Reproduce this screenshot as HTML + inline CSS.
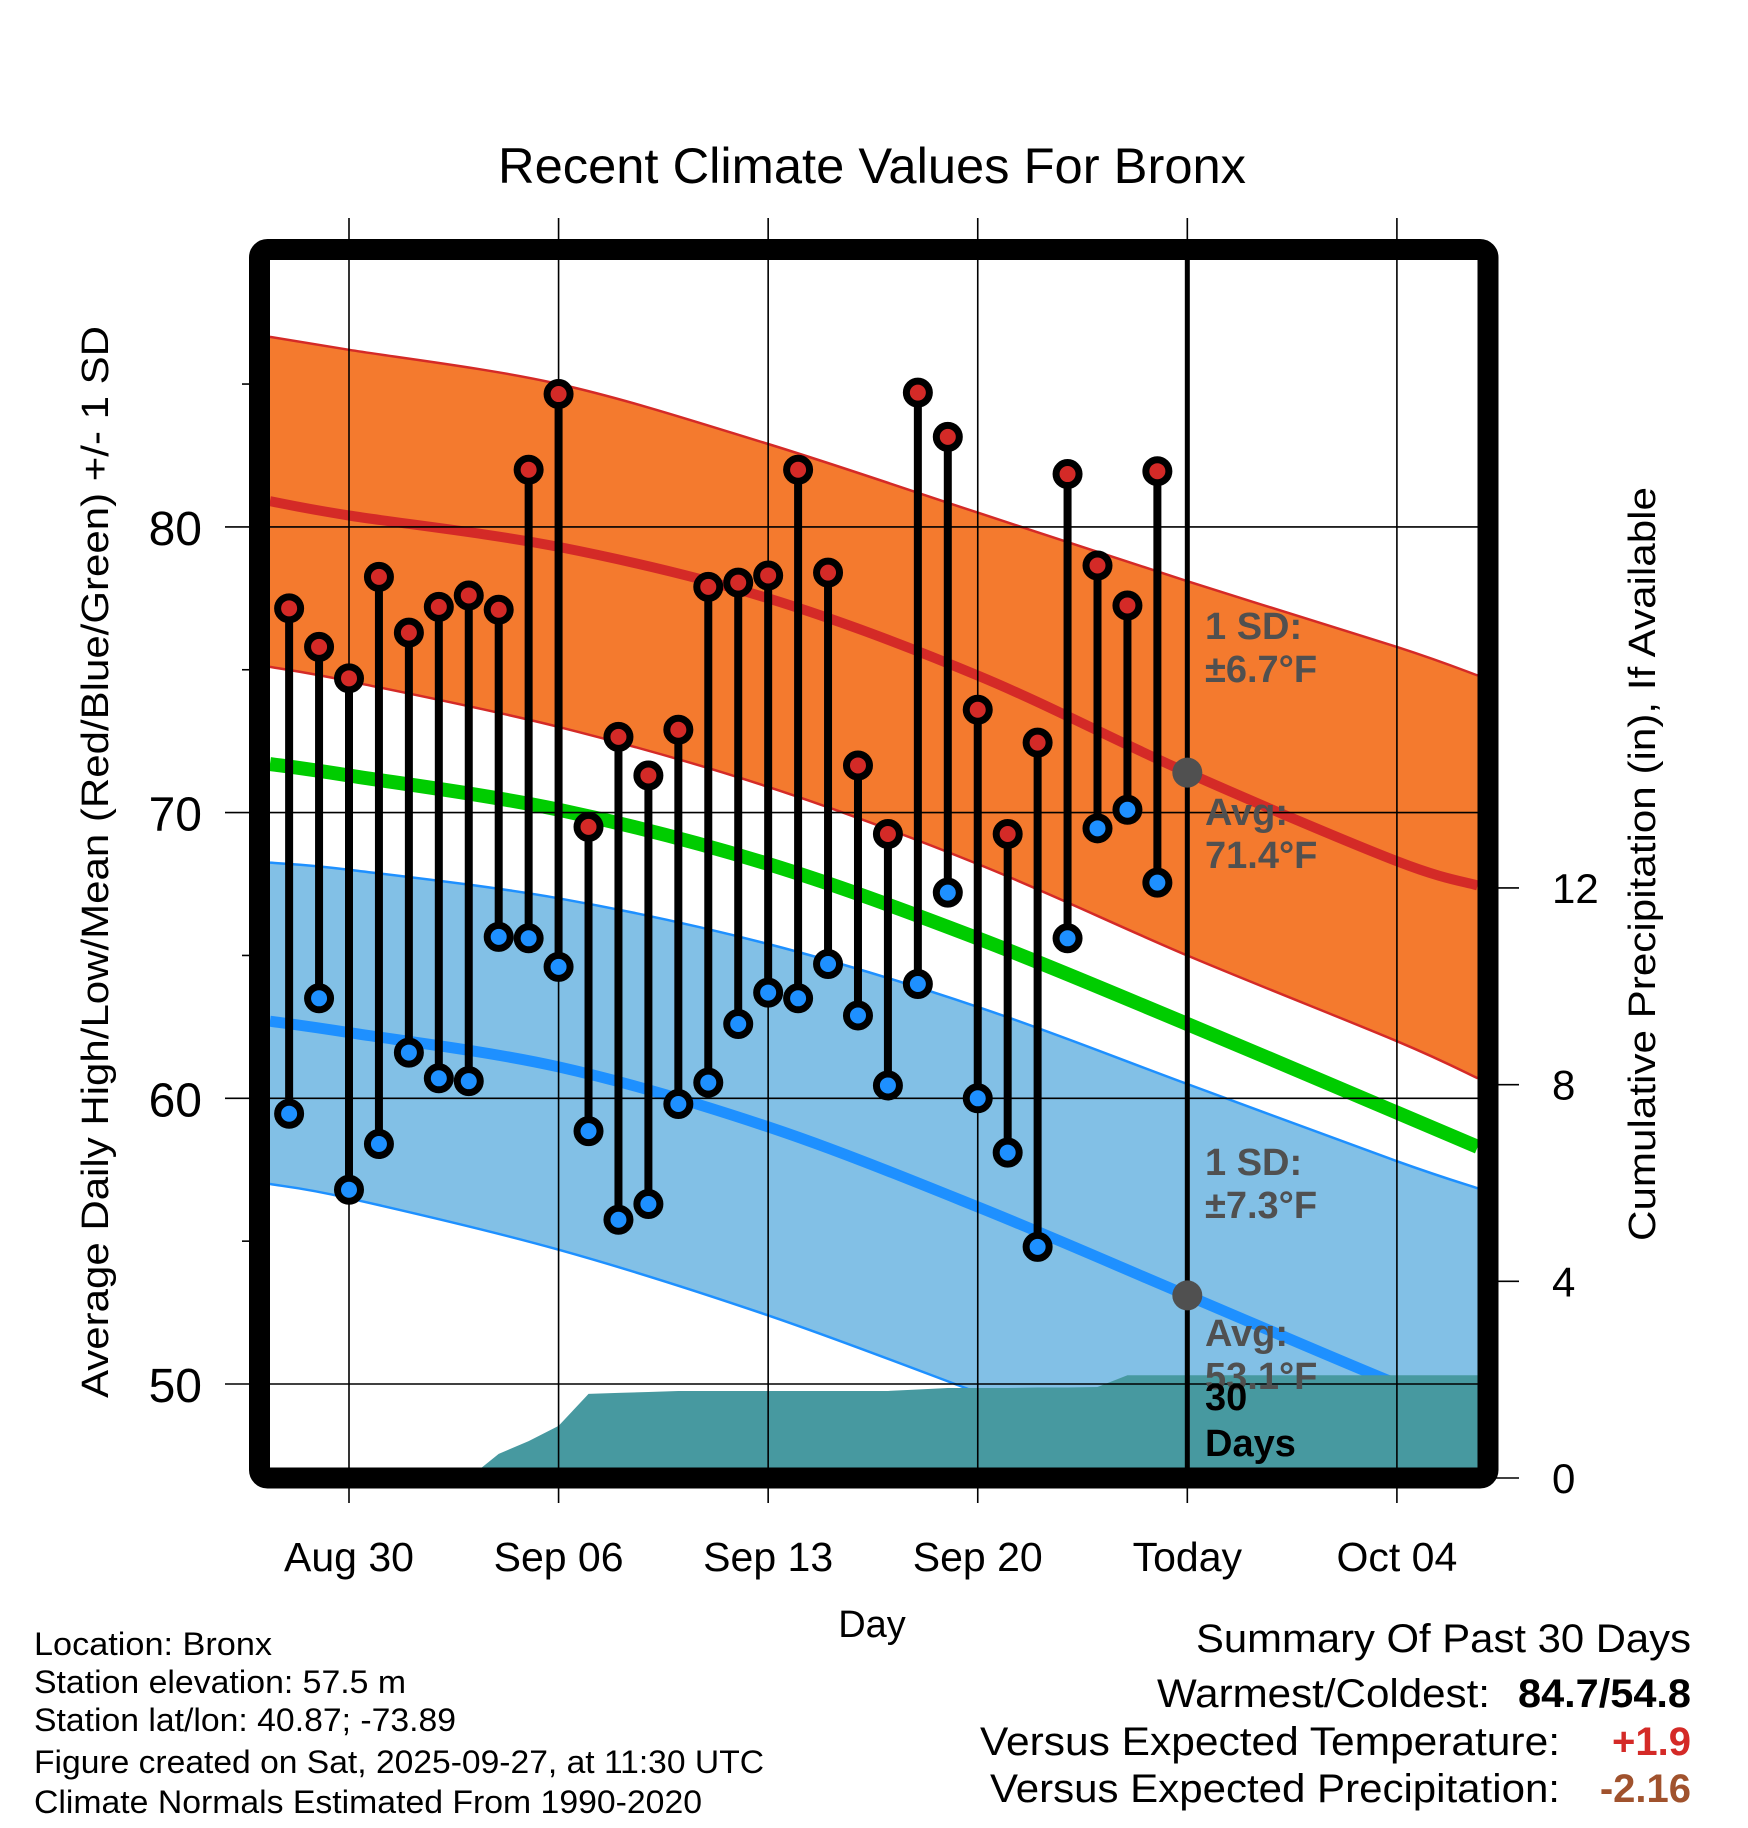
<!DOCTYPE html>
<html><head><meta charset="utf-8"><style>
html,body{margin:0;padding:0;background:#fff;}
svg{display:block;font-family:"Liberation Sans",Arial,sans-serif;}
</style></head><body>
<svg id="chart" width="1748" height="1828" viewBox="0 0 1748 1828" xmlns="http://www.w3.org/2000/svg">
<defs><clipPath id="plotclip"><rect x="270" y="260" width="1208" height="1208"/></clipPath></defs>
<text x="872" y="183" font-size="50" text-anchor="middle" textLength="748" lengthAdjust="spacingAndGlyphs">Recent Climate Values For Bronx</text>
<g id="plot" clip-path="url(#plotclip)"></g>
<g id="over"></g>
<rect x="259.5" y="249.5" width="1228.5" height="1228.5" rx="8" fill="none" stroke="#000" stroke-width="21"/>
<text x="872" y="1637" font-size="38" text-anchor="middle">Day</text>
<text transform="translate(108,862) rotate(-90)" font-size="38" text-anchor="middle" textLength="1072" lengthAdjust="spacingAndGlyphs">Average Daily High/Low/Mean (Red/Blue/Green) +/- 1 SD</text>
<text transform="translate(1655,864) rotate(-90)" font-size="38" text-anchor="middle" textLength="754" lengthAdjust="spacingAndGlyphs">Cumulative Precipitation (in), If Available</text>
<g font-size="32">
<text x="34" y="1655" textLength="238" lengthAdjust="spacingAndGlyphs">Location: Bronx</text>
<text x="34" y="1693" textLength="372" lengthAdjust="spacingAndGlyphs">Station elevation: 57.5 m</text>
<text x="34" y="1731" textLength="422" lengthAdjust="spacingAndGlyphs">Station lat/lon: 40.87; -73.89</text>
<text x="34" y="1773" textLength="730" lengthAdjust="spacingAndGlyphs">Figure created on Sat, 2025-09-27, at 11:30 UTC</text>
<text x="34" y="1813" textLength="668" lengthAdjust="spacingAndGlyphs">Climate Normals Estimated From 1990-2020</text>
</g>
<g font-size="40">
<text x="1691" y="1652" text-anchor="end" textLength="495" lengthAdjust="spacingAndGlyphs">Summary Of Past 30 Days</text>
<text x="1490" y="1707" text-anchor="end" textLength="333" lengthAdjust="spacingAndGlyphs">Warmest/Coldest:</text>
<text x="1691" y="1707" text-anchor="end" font-weight="bold" textLength="173" lengthAdjust="spacingAndGlyphs">84.7/54.8</text>
<text x="1560" y="1755" text-anchor="end" textLength="580" lengthAdjust="spacingAndGlyphs">Versus Expected Temperature:</text>
<text x="1691" y="1755" text-anchor="end" font-weight="bold" fill="#d42a27">+1.9</text>
<text x="1560" y="1802" text-anchor="end" textLength="570" lengthAdjust="spacingAndGlyphs">Versus Expected Precipitation:</text>
<text x="1691" y="1802" text-anchor="end" font-weight="bold" fill="#a0522d">-2.16</text>
</g>
</svg>
<script>
// days relative to Aug 30 (0 = Aug 30)
const obsDays = [-2,-1,0,1,2,3,4,5,6,7,8,9,10,11,12,13,14,15,16,17,18,19,20,21,22,23,24,25,26,27];
const highs = [77.15,75.8,74.7,78.25,76.3,77.2,77.6,77.1,82.0,84.65,69.5,72.65,71.3,72.9,77.9,78.05,78.3,82.0,78.4,71.65,69.25,84.7,83.15,73.6,69.25,72.45,81.85,78.65,77.25,81.95];
const lows = [59.46,63.5,56.8,58.4,61.6,60.7,60.6,65.65,65.6,64.6,58.85,55.75,56.3,59.8,60.55,62.6,63.7,63.5,64.7,62.9,60.45,64.0,67.2,60.0,58.1,54.8,65.6,69.45,70.1,67.55];
const precipCum = [0,0,0,0,0,0,0,0.49,0.75,1.06,1.71,1.73,1.75,1.77,1.77,1.77,1.77,1.77,1.77,1.77,1.77,1.8,1.83,1.83,1.83,1.84,1.84,1.85,2.09,2.09];
const normDays = [-2.64,0,7,14,21,28,35,37.7];
const redUpper = [86.65,86.2,85.0,82.9,80.5,78.1,75.8,74.8];
const redMean = [80.9,80.4,79.3,77.5,74.8,71.4,68.3,67.45];
const redLower = [75.1,74.6,73.0,70.9,68.2,65.0,62.0,60.7];
const greenMean = [71.7,71.3,70.1,68.2,65.6,62.6,59.5,58.3];
const blueUpper = [68.25,68.0,67.0,65.4,63.2,60.5,57.8,56.85];
const blueMean = [62.7,62.3,61.1,59.0,56.2,53.1,50.0,49.0];
const blueLower = [57.0,56.5,54.7,52.4,49.7,46.9,44.3,43.4];
const todayDay = 28;
const todayHigh = 71.4, todayLow = 53.1;
const tempTicks = [50,60,70,80];
const tempMinor = [55,65,75,85];
const precipTicks = [0,4,8,12];
const xTickDays = [0,7,14,21,28,35];
const xTickLabels = ["Aug 30","Sep 06","Sep 13","Sep 20","Today","Oct 04"];

const NS="http://www.w3.org/2000/svg";
const X = d => 349 + 29.94*d;
const Y = v => 1384 - (v-50)*28.57;
const YP = p => 1478 - p*49.17;
const plot=document.getElementById('plot'), over=document.getElementById('over');
function mk(tag, attrs, parent){const e=document.createElementNS(NS,tag);for(const k in attrs)e.setAttribute(k,attrs[k]);parent.appendChild(e);return e;}
function pts(arr){return normDays.map((d,i)=>[X(d),Y(arr[i])]);}
// Catmull-Rom smooth path segments through points (without initial M)
function smooth(p){
  let s='';
  for(let i=0;i<p.length-1;i++){
    const p0=p[Math.max(0,i-1)],p1=p[i],p2=p[i+1],p3=p[Math.min(p.length-1,i+2)];
    const c1=[p1[0]+(p2[0]-p0[0])/6,p1[1]+(p2[1]-p0[1])/6];
    const c2=[p2[0]-(p3[0]-p1[0])/6,p2[1]-(p3[1]-p1[1])/6];
    s+=' C'+c1[0].toFixed(1)+','+c1[1].toFixed(1)+' '+c2[0].toFixed(1)+','+c2[1].toFixed(1)+' '+p2[0].toFixed(1)+','+p2[1].toFixed(1);
  }
  return s;
}
function linePath(arr){const p=pts(arr);return 'M'+p[0][0]+','+p[0][1]+smooth(p);}
function bandPath(up,lo){const a=pts(up),b=pts(lo).reverse();return 'M'+a[0][0]+','+a[0][1]+smooth(a)+' L'+b[0][0]+','+b[0][1]+smooth(b)+' Z';}

let e;
e=mk('path',{d:bandPath(redUpper,redLower),fill:'#f47a2e'},plot);


e=mk('path',{d:bandPath(blueUpper,blueLower),fill:'#82c0e6'},plot);


[[redUpper,'#d42a27',2.5,'high-upper-edge'],[redLower,'#d42a27',2.5,'high-lower-edge'],[blueUpper,'#1e90ff',2.5,'low-upper-edge'],[blueLower,'#1e90ff',2.5,'low-lower-edge'],[redMean,'#d42a27',10,'high-normal-line'],[greenMean,'#00cc00',14,'mean-normal-line'],[blueMean,'#1e90ff',11,'low-normal-line']].forEach(s=>{
  const l=mk('path',{d:linePath(s[0]),fill:'none',stroke:s[1],'stroke-width':s[2]},plot);
  
  
});
// precipitation area
let pp=[X(obsDays[0])+','+YP(0)];
obsDays.forEach((d,i)=>pp.push(X(d)+','+YP(precipCum[i])));
pp.push(X(37.7)+','+YP(precipCum[precipCum.length-1]));
pp.push(X(37.7)+','+YP(0));
e=mk('polygon',{points:pp.join(' '),fill:'#4799a0'},plot);


// grid
tempTicks.forEach(v=>{
  const g=mk('line',{x1:225,x2:1478,y1:Y(v),y2:Y(v),stroke:'#000','stroke-width':1.6},over);
  
  
  const t=mk('text',{x:202,y:Y(v)+18,'font-size':48,'text-anchor':'end'},over);
  t.textContent=v;
  
  
});
tempMinor.forEach(v=>{
  const g=mk('line',{x1:242,x2:252,y1:Y(v),y2:Y(v),stroke:'#000','stroke-width':1.6},over);
  
  
});
xTickDays.forEach((d,i)=>{
  const g=mk('line',{x1:X(d),x2:X(d),y1:218,y2:1503,stroke:'#000','stroke-width':1.6},over);
  
  
  const t=mk('text',{x:X(d),y:1571,'font-size':41,'text-anchor':'middle'},over);
  t.textContent=xTickLabels[i];
  
  
});
precipTicks.forEach(p=>{
  const g=mk('line',{x1:1490,x2:1519,y1:YP(p),y2:YP(p),stroke:'#000','stroke-width':1.6},over);
  
  
  const t=mk('text',{x:1552,y:YP(p)+15,'font-size':42},over);
  t.textContent=p;
  
  
});
// today line
e=mk('line',{x1:X(todayDay),x2:X(todayDay),y1:260,y2:1468,stroke:'#000','stroke-width':5},over);


// stems and markers
obsDays.forEach((d,i)=>{
  const s=mk('line',{x1:X(d),x2:X(d),y1:Y(highs[i]),y2:Y(lows[i]),stroke:'#000','stroke-width':8},over);
  
  
});
obsDays.forEach((d,i)=>{
  const h=mk('circle',{cx:X(d),cy:Y(highs[i]),r:11.5,fill:'#d42a27',stroke:'#000','stroke-width':7},over);
  
  
  const l=mk('circle',{cx:X(d),cy:Y(lows[i]),r:11.5,fill:'#1e90ff',stroke:'#000','stroke-width':7},over);
  
  
});
e=mk('circle',{cx:X(todayDay),cy:Y(todayHigh),r:15,fill:'#505050'},over);


e=mk('circle',{cx:X(todayDay),cy:Y(todayLow),r:15,fill:'#505050'},over);


// annotations
[["1 SD:",639,'#505050','high-sd-label'],["±6.7°F",682,'#505050','high-sd-value'],["Avg:",825,'#505050','high-avg-label'],["71.4°F",868,'#505050','high-avg-value'],
 ["1 SD:",1175,'#505050','low-sd-label'],["±7.3°F",1218,'#505050','low-sd-value'],["Avg:",1346,'#505050','low-avg-label'],["53.1°F",1389,'#505050','low-avg-value'],
 ["30",1410,'#000','precip-days-label'],["Days",1456,'#000','precip-days-unit']].forEach(a=>{
  const t=mk('text',{x:1205,y:a[1],'font-size':38,'font-weight':'bold',fill:a[2]},over);
  t.textContent=a[0];
  
  
});
</script>
</body></html>
